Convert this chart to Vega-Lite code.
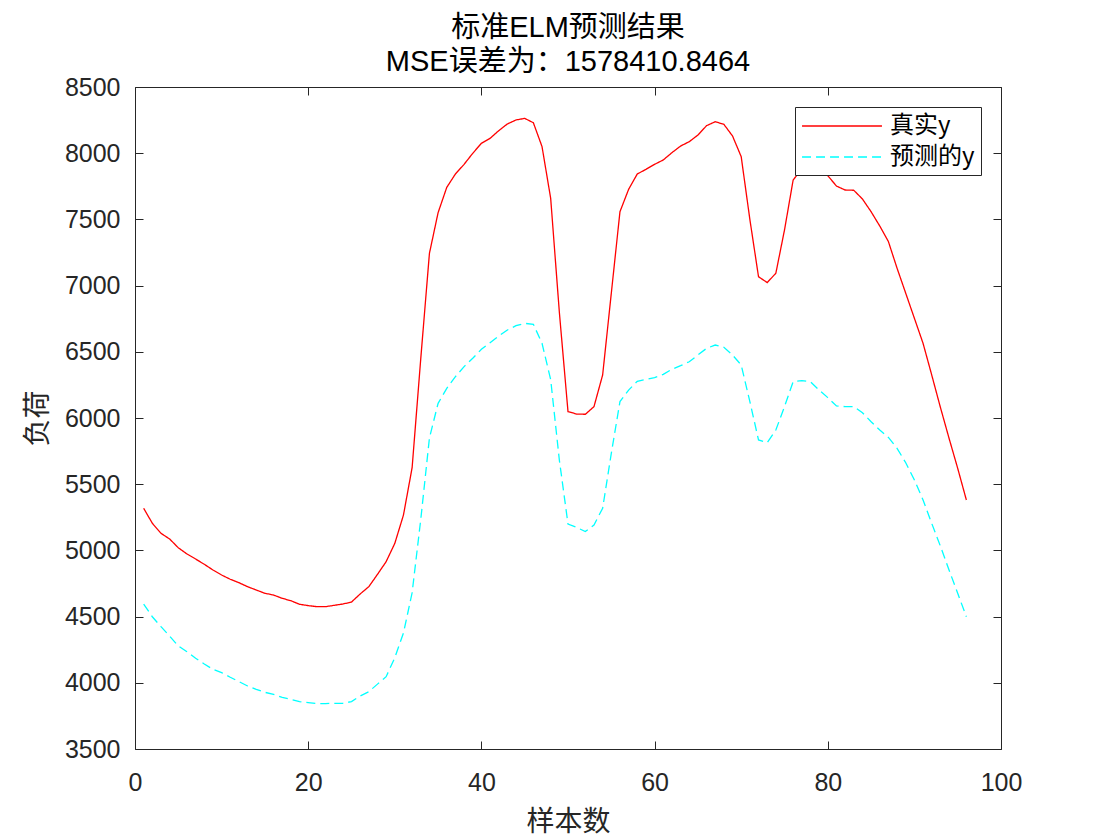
{
  "$schema": "https://vega.github.io/schema/vega-lite/v6.json",
  "width": 866,
  "height": 662,
  "autosize": "none",
  "padding": {"left": 135, "top": 87, "right": 98, "bottom": 90},
  "background": "white",
  "title": {
    "text": ["标准ELM预测结果", "MSE误差为：1578410.8464"],
    "font": "Liberation Sans, Noto Sans CJK SC",
    "fontSize": 29,
    "fontWeight": "normal",
    "color": "#000000",
    "anchor": "middle",
    "baseline": "bottom",
    "lineHeight": 34,
    "offset": 12,
    "dy": 43
  },
  "config": {
    "view": {"stroke": null},
    "axis": {
      "grid": false,
      "domainColor": "#262626",
      "tickColor": "#262626",
      "labelColor": "#262626",
      "titleColor": "#262626",
      "labelFont": "Liberation Sans",
      "labelFontSize": 25,
      "titleFont": "Noto Sans CJK SC",
      "titleFontSize": 28,
      "titleFontWeight": "normal",
      "tickSize": -8,
      "tickWidth": 1,
      "domainWidth": 1,
      "labelFlush": false,
      "labelOverlap": false,
      "format": "d"
    }
  },
  "data": {
    "values": [
      {"x": 1, "series": "真实y", "y": 5318}, {"x": 2, "series": "真实y", "y": 5205},
      {"x": 3, "series": "真实y", "y": 5129}, {"x": 4, "series": "真实y", "y": 5086},
      {"x": 5, "series": "真实y", "y": 5020}, {"x": 6, "series": "真实y", "y": 4973},
      {"x": 7, "series": "真实y", "y": 4935}, {"x": 8, "series": "真实y", "y": 4895},
      {"x": 9, "series": "真实y", "y": 4852}, {"x": 10, "series": "真实y", "y": 4814},
      {"x": 11, "series": "真实y", "y": 4782}, {"x": 12, "series": "真实y", "y": 4756},
      {"x": 13, "series": "真实y", "y": 4726}, {"x": 14, "series": "真实y", "y": 4701},
      {"x": 15, "series": "真实y", "y": 4676}, {"x": 16, "series": "真实y", "y": 4663},
      {"x": 17, "series": "真实y", "y": 4638}, {"x": 18, "series": "真实y", "y": 4620},
      {"x": 19, "series": "真实y", "y": 4593}, {"x": 20, "series": "真实y", "y": 4583},
      {"x": 21, "series": "真实y", "y": 4575}, {"x": 22, "series": "真实y", "y": 4575},
      {"x": 23, "series": "真实y", "y": 4585}, {"x": 24, "series": "真实y", "y": 4595},
      {"x": 25, "series": "真实y", "y": 4610}, {"x": 26, "series": "真实y", "y": 4671},
      {"x": 27, "series": "真实y", "y": 4726}, {"x": 28, "series": "真实y", "y": 4819},
      {"x": 29, "series": "真实y", "y": 4915}, {"x": 30, "series": "真实y", "y": 5053},
      {"x": 31, "series": "真实y", "y": 5267}, {"x": 32, "series": "真实y", "y": 5625},
      {"x": 33, "series": "真实y", "y": 6450}, {"x": 34, "series": "真实y", "y": 7244},
      {"x": 35, "series": "真实y", "y": 7551}, {"x": 36, "series": "真实y", "y": 7742},
      {"x": 37, "series": "真实y", "y": 7843}, {"x": 38, "series": "真实y", "y": 7916},
      {"x": 39, "series": "真实y", "y": 7999}, {"x": 40, "series": "真实y", "y": 8075},
      {"x": 41, "series": "真实y", "y": 8112}, {"x": 42, "series": "真实y", "y": 8170},
      {"x": 43, "series": "真实y", "y": 8221}, {"x": 44, "series": "真实y", "y": 8251},
      {"x": 45, "series": "真实y", "y": 8263}, {"x": 46, "series": "真实y", "y": 8230},
      {"x": 47, "series": "真实y", "y": 8050}, {"x": 48, "series": "真实y", "y": 7659},
      {"x": 49, "series": "真实y", "y": 6800}, {"x": 50, "series": "真实y", "y": 6048},
      {"x": 51, "series": "真实y", "y": 6030}, {"x": 52, "series": "真实y", "y": 6028},
      {"x": 53, "series": "真实y", "y": 6086}, {"x": 54, "series": "真实y", "y": 6325},
      {"x": 55, "series": "真实y", "y": 6942}, {"x": 56, "series": "真实y", "y": 7558},
      {"x": 57, "series": "真实y", "y": 7727}, {"x": 58, "series": "真实y", "y": 7843},
      {"x": 59, "series": "真实y", "y": 7878}, {"x": 60, "series": "真实y", "y": 7916},
      {"x": 61, "series": "真实y", "y": 7949}, {"x": 62, "series": "真实y", "y": 8004},
      {"x": 63, "series": "真实y", "y": 8054}, {"x": 64, "series": "真实y", "y": 8087},
      {"x": 65, "series": "真实y", "y": 8137}, {"x": 66, "series": "真实y", "y": 8208},
      {"x": 67, "series": "真实y", "y": 8238}, {"x": 68, "series": "真实y", "y": 8218},
      {"x": 69, "series": "真实y", "y": 8130}, {"x": 70, "series": "真实y", "y": 7974},
      {"x": 71, "series": "真实y", "y": 7500}, {"x": 72, "series": "真实y", "y": 7067},
      {"x": 73, "series": "真实y", "y": 7023}, {"x": 74, "series": "真实y", "y": 7093},
      {"x": 75, "series": "真实y", "y": 7420}, {"x": 76, "series": "真实y", "y": 7798},
      {"x": 77, "series": "真实y", "y": 7880}, {"x": 78, "series": "真实y", "y": 7900},
      {"x": 79, "series": "真实y", "y": 7870}, {"x": 80, "series": "真实y", "y": 7830},
      {"x": 81, "series": "真实y", "y": 7752}, {"x": 82, "series": "真实y", "y": 7722},
      {"x": 83, "series": "真实y", "y": 7720}, {"x": 84, "series": "真实y", "y": 7654},
      {"x": 85, "series": "真实y", "y": 7558}, {"x": 86, "series": "真实y", "y": 7450},
      {"x": 87, "series": "真实y", "y": 7332}, {"x": 88, "series": "真实y", "y": 7131},
      {"x": 89, "series": "真实y", "y": 6942}, {"x": 90, "series": "真实y", "y": 6753},
      {"x": 91, "series": "真实y", "y": 6564}, {"x": 92, "series": "真实y", "y": 6325},
      {"x": 93, "series": "真实y", "y": 6081}, {"x": 94, "series": "真实y", "y": 5847},
      {"x": 95, "series": "真实y", "y": 5620}, {"x": 96, "series": "真实y", "y": 5381},
      {"x": 1, "series": "预测的y", "y": 4595}, {"x": 2, "series": "预测的y", "y": 4499},
      {"x": 3, "series": "预测的y", "y": 4424}, {"x": 4, "series": "预测的y", "y": 4353},
      {"x": 5, "series": "预测的y", "y": 4278}, {"x": 6, "series": "预测的y", "y": 4235},
      {"x": 7, "series": "预测的y", "y": 4185}, {"x": 8, "series": "预测的y", "y": 4142},
      {"x": 9, "series": "预测的y", "y": 4102}, {"x": 10, "series": "预测的y", "y": 4077},
      {"x": 11, "series": "预测的y", "y": 4042}, {"x": 12, "series": "预测的y", "y": 4009},
      {"x": 13, "series": "预测的y", "y": 3976}, {"x": 14, "series": "预测的y", "y": 3951},
      {"x": 15, "series": "预测的y", "y": 3928}, {"x": 16, "series": "预测的y", "y": 3913},
      {"x": 17, "series": "预测的y", "y": 3890}, {"x": 18, "series": "预测的y", "y": 3875},
      {"x": 19, "series": "预测的y", "y": 3858}, {"x": 20, "series": "预测的y", "y": 3850},
      {"x": 21, "series": "预测的y", "y": 3843}, {"x": 22, "series": "预测的y", "y": 3843},
      {"x": 23, "series": "预测的y", "y": 3845}, {"x": 24, "series": "预测的y", "y": 3845},
      {"x": 25, "series": "预测的y", "y": 3858}, {"x": 26, "series": "预测的y", "y": 3900},
      {"x": 27, "series": "预测的y", "y": 3933}, {"x": 28, "series": "预测的y", "y": 3990},
      {"x": 29, "series": "预测的y", "y": 4046}, {"x": 30, "series": "预测的y", "y": 4190},
      {"x": 31, "series": "预测的y", "y": 4376}, {"x": 32, "series": "预测的y", "y": 4680},
      {"x": 33, "series": "预测的y", "y": 5235}, {"x": 34, "series": "预测的y", "y": 5850},
      {"x": 35, "series": "预测的y", "y": 6111}, {"x": 36, "series": "预测的y", "y": 6224},
      {"x": 37, "series": "预测的y", "y": 6312}, {"x": 38, "series": "预测的y", "y": 6388},
      {"x": 39, "series": "预测的y", "y": 6451}, {"x": 40, "series": "预测的y", "y": 6519},
      {"x": 41, "series": "预测的y", "y": 6569}, {"x": 42, "series": "预测的y", "y": 6619},
      {"x": 43, "series": "预测的y", "y": 6665}, {"x": 44, "series": "预测的y", "y": 6697},
      {"x": 45, "series": "预测的y", "y": 6715}, {"x": 46, "series": "预测的y", "y": 6708},
      {"x": 47, "series": "预测的y", "y": 6564}, {"x": 48, "series": "预测的y", "y": 6290},
      {"x": 49, "series": "预测的y", "y": 5683}, {"x": 50, "series": "预测的y", "y": 5199},
      {"x": 51, "series": "预测的y", "y": 5174}, {"x": 52, "series": "预测的y", "y": 5142},
      {"x": 53, "series": "预测的y", "y": 5192}, {"x": 54, "series": "预测的y", "y": 5318},
      {"x": 55, "series": "预测的y", "y": 5733}, {"x": 56, "series": "预测的y", "y": 6124},
      {"x": 57, "series": "预测的y", "y": 6211}, {"x": 58, "series": "预测的y", "y": 6277},
      {"x": 59, "series": "预测的y", "y": 6292}, {"x": 60, "series": "预测的y", "y": 6305},
      {"x": 61, "series": "预测的y", "y": 6330}, {"x": 62, "series": "预测的y", "y": 6368},
      {"x": 63, "series": "预测的y", "y": 6395}, {"x": 64, "series": "预测的y", "y": 6425},
      {"x": 65, "series": "预测的y", "y": 6476}, {"x": 66, "series": "预测的y", "y": 6526},
      {"x": 67, "series": "预测的y", "y": 6551}, {"x": 68, "series": "预测的y", "y": 6534},
      {"x": 69, "series": "预测的y", "y": 6476}, {"x": 70, "series": "预测的y", "y": 6400},
      {"x": 71, "series": "预测的y", "y": 6124}, {"x": 72, "series": "预测的y", "y": 5834},
      {"x": 73, "series": "预测的y", "y": 5814}, {"x": 74, "series": "预测的y", "y": 5909},
      {"x": 75, "series": "预测的y", "y": 6086}, {"x": 76, "series": "预测的y", "y": 6274},
      {"x": 77, "series": "预测的y", "y": 6282}, {"x": 78, "series": "预测的y", "y": 6274},
      {"x": 79, "series": "预测的y", "y": 6211}, {"x": 80, "series": "预测的y", "y": 6154},
      {"x": 81, "series": "预测的y", "y": 6091}, {"x": 82, "series": "预测的y", "y": 6086},
      {"x": 83, "series": "预测的y", "y": 6086}, {"x": 84, "series": "预测的y", "y": 6040},
      {"x": 85, "series": "预测的y", "y": 5972}, {"x": 86, "series": "预测的y", "y": 5909},
      {"x": 87, "series": "预测的y", "y": 5853}, {"x": 88, "series": "预测的y", "y": 5771},
      {"x": 89, "series": "预测的y", "y": 5662}, {"x": 90, "series": "预测的y", "y": 5532},
      {"x": 91, "series": "预测的y", "y": 5381}, {"x": 92, "series": "预测的y", "y": 5204},
      {"x": 93, "series": "预测的y", "y": 5033}, {"x": 94, "series": "预测的y", "y": 4852},
      {"x": 95, "series": "预测的y", "y": 4676}, {"x": 96, "series": "预测的y", "y": 4499}
    ]
  },
  "layer": [
    {
      "mark": {"type": "line", "strokeWidth": 1.3, "clip": true},
      "encoding": {
        "x": {
          "field": "x",
          "type": "quantitative",
          "scale": {"domain": [0, 100], "nice": false, "zero": false},
          "axis": {
            "orient": "bottom",
            "values": [0, 20, 40, 60, 80, 100],
            "title": "样本数",
            "labelPadding": 29,
            "titlePadding": 13
          }
        },
        "y": {
          "field": "y",
          "type": "quantitative",
          "scale": {"domain": [3500, 8500], "nice": false, "zero": false},
          "axis": {
            "orient": "left",
            "values": [3500, 4000, 4500, 5000, 5500, 6000, 6500, 7000, 7500, 8000, 8500],
            "title": "负荷",
            "labelPadding": 23,
            "titlePadding": 12
          }
        },
        "color": {
          "field": "series",
          "type": "nominal",
          "scale": {"domain": ["真实y", "预测的y"], "range": ["#FF0000", "#00FFFF"]},
          "legend": {
            "title": null,
            "orient": "none",
            "legendX": 660,
            "legendY": 20,
            "symbolType": "M-3.33,0H3.33",
            "symbolSize": 576,
            "symbolOffset": 28,
            "symbolStrokeWidth": 1.3,
            "labelFont": "Noto Sans CJK SC, Liberation Sans",
            "labelFontSize": 24,
            "labelColor": "#000000",
            "labelOffset": 35,
            "strokeColor": "#262626",
            "fillColor": "white",
            "padding": 6,
            "rowPadding": 6
          }
        },
        "strokeDash": {
          "field": "series",
          "type": "nominal",
          "scale": {"domain": ["真实y", "预测的y"], "range": [[1, 0], [9, 5]]},
          "legend": null
        }
      }
    },
    {
      "mark": {"type": "line", "opacity": 0},
      "encoding": {
        "x": {
          "field": "x",
          "type": "quantitative",
          "axis": {
            "orient": "top",
            "values": [0, 20, 40, 60, 80, 100],
            "labels": false,
            "title": null
          }
        },
        "y": {
          "field": "y",
          "type": "quantitative",
          "axis": {
            "orient": "right",
            "values": [3500, 4000, 4500, 5000, 5500, 6000, 6500, 7000, 7500, 8000, 8500],
            "labels": false,
            "title": null
          }
        },
        "detail": {"field": "series", "type": "nominal"}
      }
    }
  ],
  "resolve": {"axis": {"x": "independent", "y": "independent"}}
}
